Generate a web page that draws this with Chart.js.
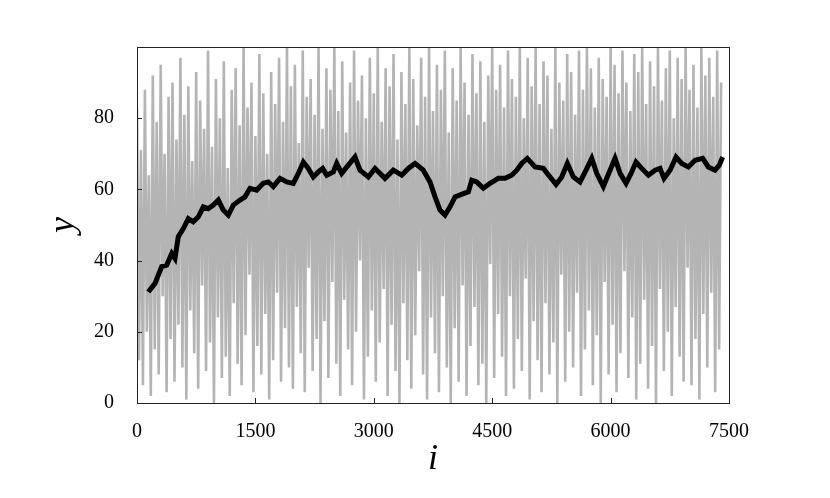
<!DOCTYPE html>
<html>
<head>
<meta charset="utf-8">
<script src="https://cdn.jsdelivr.net/npm/chart.js@4.4.1/dist/chart.umd.min.js"></script>
<style>
  html, body { margin: 0; padding: 0; background: #fff; }
  #wrap { width: 830px; height: 498px; }
</style>
</head>
<body>
<div id="wrap"><canvas id="myChart" width="830" height="498"></canvas></div>
<script>
var grayStep = 25;
var grayY = [
  83,12,71,5,88,20,64,2,92,15,79,8,95,30,70,3,86,18,90,6,
  74,22,97,10,81,1,89,26,68,14,93,4,85,33,77,9,99,17,72,0,
  91,24,80,7,96,13,66,2,88,28,94,11,78,5,100,19,83,36,90,3,
  75,16,98,8,87,25,70,1,93,12,84,31,97,6,79,21,100,10,89,4,
  95,27,73,14,99,3,86,38,91,9,81,18,100,0,77,23,94,7,88,34,
  100,11,82,2,96,29,76,15,90,5,99,20,85,40,92,1,80,13,97,26,
  87,6,100,17,79,32,94,2,89,22,98,9,74,0,93,28,84,12,100,4,
  91,19,78,37,97,8,86,1,100,24,82,14,95,3,88,30,99,10,76,0,
  94,21,85,6,100,33,90,2,81,16,98,27,87,5,96,11,79,0,92,39,
  100,7,88,25,95,13,83,2,99,30,91,4,86,18,100,9,80,35,97,1,
  89,23,100,12,84,3,96,28,92,8,77,17,100,0,90,36,85,6,98,20,
  93,10,81,31,99,2,88,15,100,26,94,5,83,19,97,0,91,34,86,8,
  100,22,95,3,87,14,99,37,90,7,82,24,98,1,93,11,100,29,84,4,
  96,16,89,0,100,32,85,9,94,20,99,2,80,27,97,13,91,6,100,38,
  88,5,95,18,83,1,100,25,92,10,97,31,86,3,99,15,90
];

// running average
var avgI = [143,228,313,376,440,481,523,587,650,713,777,840,903,967,1030,1093,1157,1220,1305,1368,
  1432,1516,1600,1664,1727,1812,1897,1980,2044,2107,2170,2234,2297,2352,2404,2487,2530,2593,2677,2762,
  2825,2931,3015,3142,3247,3354,3437,3522,3627,3712,3776,3839,3902,3966,4029,4134,4198,4241,4304,4388,
  4473,4578,4663,4747,4811,4874,4945,5043,5148,5233,5309,5381,5452,5528,5613,5689,5761,5824,5908,5984,
  6056,6120,6196,6259,6322,6394,6479,6563,6627,6677,6753,6829,6901,6985,7070,7167,7238,7323,7377,7420];
var avgY = [31.2,33.6,38.3,38.7,42,40.6,46.7,49,51.8,50.9,52.3,55.1,54.6,55.6,57,54.2,52.8,55.6,57,57.9,
  60.3,59.8,61.7,62.1,60.8,63.1,62.1,61.7,64.5,67.7,65.9,63.5,64.9,65.9,64,64.9,67.3,64.5,66.8,69.1,
  65.4,63.5,65.9,63.1,65.4,64,65.9,67.3,65.4,62.1,57.9,54.2,52.8,55.1,57.9,58.8,59.3,62.6,62.1,60.3,
  61.7,63.1,63.1,64,65.4,67.3,68.7,66.3,65.9,63.5,61.4,63.5,67.3,63.5,62.1,65.4,68.7,64.5,60.8,64.9,
  68.7,64.5,61.7,64.5,67.7,65.9,64,65.4,65.9,63.1,65.4,69.1,67.3,66.3,68.2,68.7,66.3,65.4,66.8,69.1];

var xTicks = [0,1500,3000,4500,6000,7500];
var yTicks = [0,20,40,60,80];

var grayPts = grayY.map(function (v, k) { return {x: k * grayStep, y: v}; });
var avgPts = avgI.map(function (v, k) { return {x: v, y: avgY[k]}; });

var serif = '"Liberation Serif", "Times New Roman", serif';

// box round the plot and inward ticks
var framePlugin = {
  id: 'frame',
  afterDatasetsDraw: function (chart) {
    var ctx = chart.ctx, a = chart.chartArea;
    var xs = chart.scales.x, ys = chart.scales.y;
    ctx.save();
    ctx.strokeStyle = '#222';
    ctx.lineWidth = 1;
    ctx.strokeRect(Math.round(a.left) + 0.5, Math.round(a.top) + 0.5,
      Math.round(a.right - a.left), Math.round(a.bottom - a.top));
    ctx.beginPath();
    xTicks.forEach(function (t) {
      var px = Math.round(xs.getPixelForValue(t)) + 0.5;
      ctx.moveTo(px, a.bottom);
      ctx.lineTo(px, a.bottom - 5);
    });
    yTicks.forEach(function (t) {
      var py = Math.round(ys.getPixelForValue(t)) + 0.5;
      ctx.moveTo(a.left, py);
      ctx.lineTo(a.left + 5, py);
    });
    ctx.stroke();
    ctx.restore();
  }
};

var ctx = document.getElementById('myChart').getContext('2d');
var myChart = new Chart(ctx, {
  type: 'line',
  data: {
    datasets: [
      {
        data: grayPts,
        order: 2,
        borderColor: 'rgb(180,180,180)',
        borderWidth: 2.6,
        pointRadius: 0,
        tension: 0
      },
      {
        data: avgPts,
        order: 1,
        borderColor: '#000',
        borderWidth: 5,
        pointRadius: 0,
        tension: 0
      }
    ]
  },
  options: {
    responsive: false,
    animation: false,
    layout: { padding: { top: 47, right: 101, left: 0, bottom: 0 } },
    plugins: { legend: { display: false }, tooltip: { enabled: false } },
    scales: {
      x: {
        type: 'linear',
        min: 0,
        max: 7500,
        afterFit: function (s) { s.height = 95; },
        afterBuildTicks: function (s) { s.ticks = xTicks.map(function (v) { return {value: v}; }); },
        grid: { display: false, drawTicks: false },
        border: { display: false },
        ticks: {
          color: '#000', padding: 17, maxRotation: 0,
          font: { family: serif, size: 20 },
          callback: function (v) { return String(v); }
        },
        title: {
          display: true,
          text: 'i',
          color: '#000',
          padding: { top: 0, bottom: 17 },
          font: { family: serif, size: 36, style: 'italic' }
        }
      },
      y: {
        min: 0,
        max: 100,
        afterFit: function (s) { s.width = 137; },
        afterBuildTicks: function (s) { s.ticks = yTicks.map(function (v) { return {value: v}; }); },
        grid: { display: false, drawTicks: false },
        border: { display: false },
        ticks: {
          color: '#000', padding: 23,
          font: { family: serif, size: 20 },
          callback: function (v) { return String(v); }
        },
        title: {
          display: true,
          text: 'y',
          color: '#000',
          padding: { top: 42, bottom: 0 },
          font: { family: serif, size: 36, style: 'italic' }
        }
      }
    }
  },
  plugins: [framePlugin]
});
</script>
</body>
</html>
